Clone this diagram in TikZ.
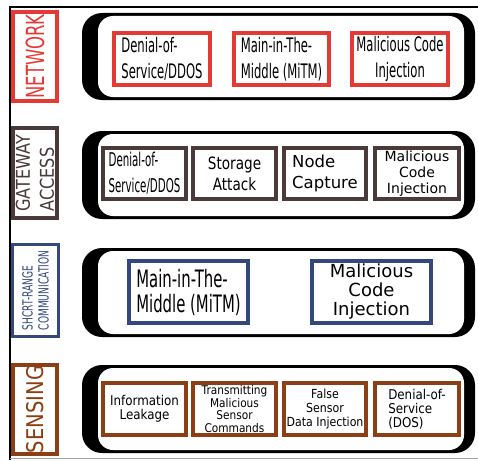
\documentclass[tikz,border=0pt]{standalone}
\usepackage{fontspec}
\setmainfont{DejaVu Sans}
\newfontfamily\fnet[FakeStretch=0.58]{DejaVu Sans}
\newfontfamily\fgden[FakeStretch=0.54]{DejaVu Sans}
\newfontfamily\fstor[FakeStretch=0.8]{DejaVu Sans}
\newfontfamily\fmitm[FakeStretch=0.62]{DejaVu Sans}
\newfontfamily\fsen[FakeStretch=0.88]{DejaVu Sans}
\newfontfamily\flabA[FakeStretch=0.66]{DejaVu Sans}
\newfontfamily\flabB[FakeStretch=0.85]{DejaVu Sans}
\newfontfamily\flabC[FakeStretch=0.65]{DejaVu Sans}
\definecolor{cred}{RGB}{229,57,53}
\definecolor{cgate}{RGB}{75,58,58}
\definecolor{cnavy}{RGB}{52,72,125}
\definecolor{cbrown}{RGB}{140,62,20}
\tikzset{
  attack/.style={draw, line width=4pt, fill=white, inner sep=0pt, text=black},
  layerlabel/.style={draw, line width=4pt, fill=white, inner sep=0pt, rotate=90},
  bandout/.style={fill=black, rounded corners=20pt},
  bandin/.style={fill=white, rounded corners=15pt},
}
\begin{document}
\begin{tikzpicture}[x=1pt,y=-1pt]
\useasboundingbox (0,0) rectangle (478,460);
% frame
\draw[line width=1.2pt] (9,7) -- (478,7);
\draw[line width=1.2pt] (10,7) -- (10,460);
\draw[gray!70, line width=1pt] (10,458.5) -- (478,458.5);

% bands
\foreach \ya/\yb in {13/100, 131/219, 248/337, 365/453}{
  \fill[bandout] (82,\ya) rectangle (475,\yb);
  \fill[bandin] (98,\ya+3) rectangle (464,\yb-3);
}

% layer labels
\node[layerlabel, draw=cred, text=cred, minimum width=89pt, minimum height=44pt,
  font={\flabA\fontsize{25}{28}\selectfont}] (lnet) at (35,56.5) {NETWORK};
\node[layerlabel, draw=cgate, text=cgate, minimum width=90pt, minimum height=44pt,
  align=left, font={\flabB\fontsize{19}{24}\selectfont}] (lgate) at (35,173) {GATEWAY\\ACCESS};
\node[layerlabel, line width=3pt, draw=cnavy, text=cnavy, minimum width=92pt, minimum height=46pt,
  align=left, font={\flabC\fontsize{14}{16}\selectfont}] (lshort) at (35.5,290.5) {SHCRT-RANGE\\COMMUNICATION};
\node[layerlabel, draw=cbrown, text=cbrown, minimum width=89pt, minimum height=44pt,
  font={\flabB\fontsize{23}{26}\selectfont}] (lsens) at (35,409.5) {SENSING};

% network
\begin{scope}[every node/.style={attack, draw=cred, minimum height=52pt, font={\fnet\fontsize{20}{26}\selectfont}}]
\node[minimum width=96pt, align=left] (n1) at (162,59) {Denial-of-\\Service/DDOS};
\node[minimum width=95pt, align=left] (n2) at (281.5,59) {Main-in-The-\\Middle (MiTM)};
\node[minimum width=96pt, align=center] (n3) at (400,59) {Malicious Code\\Injection};
\end{scope}

% gateway
\begin{scope}[every node/.style={attack, draw=cgate, minimum height=51pt}]
\node[minimum width=83pt, align=left, font={\fgden\fontsize{19}{26}\selectfont}] (g1) at (144.5,173.5) {Denial-of-\\Service/DDOS};
\node[minimum width=83pt, align=center, font={\fstor\fontsize{17}{21}\selectfont}] (g2) at (234.5,173.5) {Storage\\Attack};
\node[minimum width=82pt, align=left, font={\fontsize{16.5}{21}\selectfont}] (g3) at (325,173.5) {Node\\Capture};
\node[minimum width=84pt, align=center, font={\fontsize{14}{16}\selectfont}] (g4) at (417,173.5) {Malicious\\Code\\Injection};
\end{scope}

% short range
\begin{scope}[every node/.style={attack, draw=cnavy, minimum height=62pt}]
\node[minimum width=119pt, align=left, font={\fmitm\fontsize{24}{25}\selectfont}] (s1) at (188.5,292) {Main-in-The-\\Middle (MiTM)};
\node[minimum width=119pt, align=center, font={\fontsize{18}{19}\selectfont}] (s2) at (371.5,292) {Malicious\\Code\\Injection};
\end{scope}

% sensing
\begin{scope}[every node/.style={attack, draw=cbrown, minimum height=52pt}]
\node[minimum width=83pt, align=center, font={\fsen\fontsize{13.5}{14.5}\selectfont}] (e1) at (144.5,409) {Information\\Leakage};
\node[minimum width=83pt, align=center, font={\fsen\fontsize{12}{12.7}\selectfont}] (e2) at (234.5,409) {Transmitting\\Malicious\\Sensor\\Commands};
\node[minimum width=82pt, align=center, font={\fsen\fontsize{12.5}{14}\selectfont}] (e3) at (325,409) {False\\Sensor\\Data Injection};
\node[minimum width=84pt, align=left, font={\fsen\fontsize{13.5}{14}\selectfont}] (e4) at (417,409) {Denial-of-\\Service\\(DOS)};
\end{scope}
\end{tikzpicture}
\end{document}
